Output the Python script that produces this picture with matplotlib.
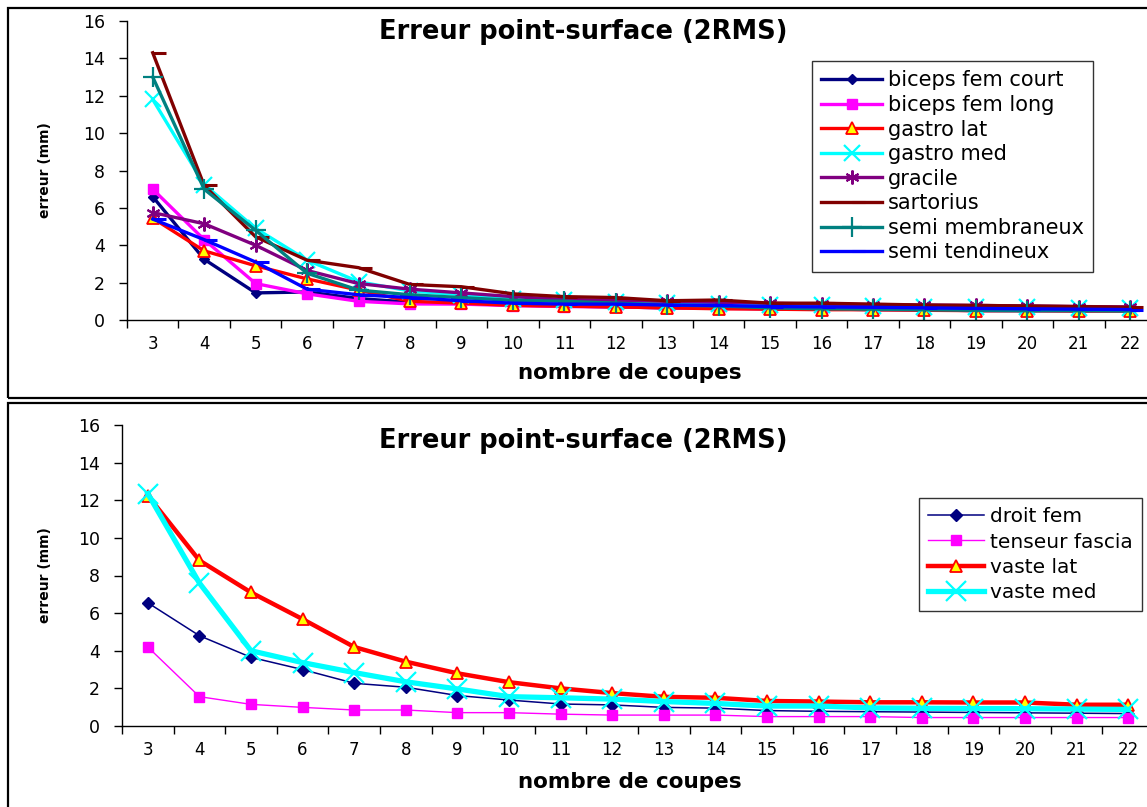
import matplotlib
matplotlib.use("Agg")
import matplotlib.pyplot as plt
from matplotlib.path import Path
from matplotlib.patches import Rectangle

plt.rcParams['font.family'] = ['DejaVu Sans']

# ---- data -------------------------------------------------------------
coupes = list(range(3, 23))
tick_labels = [str(c) for c in coupes]
y_ticks = [0, 2, 4, 6, 8, 10, 12, 14, 16]

titre = "Erreur point-surface (2RMS)"
x_titre = "nombre de coupes"
y_titre = "erreur (mm)"

# upper chart: hamstrings, gastrocnemius, gracilis, sartorius
biceps_fem_court = [6.6, 3.25, 1.45, 1.5, 1.15, 0.95, 0.9, 0.8, 0.75, 0.7,
                    0.65, 0.65, 0.6, 0.6, 0.55, 0.55, 0.5, 0.5, 0.5, 0.5]
biceps_fem_long = [7.0, 4.3, 1.95, 1.4, 1.0, 0.86, 0.85, 0.77, 0.72, 0.7,
                   0.65, 0.62, 0.6, 0.6, 0.58, 0.55, 0.55, 0.52, 0.5, 0.5]
gastro_lat = [5.45, 3.7, 2.9, 2.2, 1.6, 1.0, 0.9, 0.78, 0.74, 0.7,
              0.65, 0.6, 0.58, 0.55, 0.55, 0.52, 0.5, 0.5, 0.48, 0.48]
gastro_med = [11.8, 7.25, 4.9, 3.2, 2.05, 1.55, 1.35, 1.15, 1.05, 0.95,
              0.9, 0.85, 0.8, 0.78, 0.75, 0.72, 0.7, 0.68, 0.65, 0.62]
gracile = [5.75, 5.15, 4.0, 2.65, 1.95, 1.65, 1.45, 1.25, 1.1, 1.05,
           1.0, 0.95, 0.9, 0.85, 0.82, 0.8, 0.78, 0.75, 0.72, 0.7]
sartorius = [14.3, 7.2, 4.45, 3.2, 2.8, 1.9, 1.78, 1.4, 1.25, 1.2,
             1.03, 1.07, 0.9, 0.9, 0.85, 0.8, 0.78, 0.75, 0.72, 0.68]
semi_membraneux = [13.0, 7.0, 4.8, 2.5, 1.6, 1.35, 1.2, 1.05, 1.0, 0.9,
                   0.8, 0.75, 0.65, 0.6, 0.58, 0.55, 0.52, 0.5, 0.5, 0.48]
semi_tendineux = [5.4, 4.3, 3.1, 1.65, 1.35, 1.2, 1.03, 0.9, 0.85, 0.85,
                  0.8, 0.78, 0.72, 0.7, 0.68, 0.65, 0.62, 0.6, 0.58, 0.56]

# lower chart: quadriceps and tensor fasciae latae
droit_fem = [6.55, 4.8, 3.65, 3.0, 2.27, 2.06, 1.62, 1.38, 1.17, 1.12,
             0.99, 0.95, 0.82, 0.78, 0.76, 0.74, 0.72, 0.7, 0.68, 0.66]
tenseur_fascia = [4.2, 1.56, 1.15, 0.99, 0.85, 0.85, 0.71, 0.71, 0.63, 0.58,
                  0.58, 0.58, 0.5, 0.5, 0.5, 0.45, 0.45, 0.45, 0.45, 0.45]
vaste_lat = [12.25, 8.8, 7.1, 5.68, 4.2, 3.42, 2.8, 2.33, 2.0, 1.75,
             1.55, 1.5, 1.33, 1.3, 1.26, 1.26, 1.25, 1.25, 1.13, 1.13]
vaste_med = [12.35, 7.6, 4.0, 3.37, 2.84, 2.35, 1.97, 1.56, 1.5, 1.43,
             1.3, 1.2, 1.06, 1.06, 0.96, 0.94, 0.93, 0.92, 0.9, 0.88]

# ---- styles -----------------------------------------------------------
dash_right = Path([(0, 0), (1, 0)])   # short dash drawn to the right of the point

top_series = [
    ("biceps fem court", biceps_fem_court,
     dict(color="#000080", marker="D", ms=5.5, mfc="#000080", mec="#000080")),
    ("biceps fem long", biceps_fem_long,
     dict(color="#FF00FF", marker="s", ms=6.5, mfc="#FF00FF", mec="#FF00FF")),
    ("gastro lat", gastro_lat,
     dict(color="#FF0000", marker="^", ms=8, mfc="#FFFF00", mec="#FF0000", mew=1.3)),
    ("gastro med", gastro_med,
     dict(color="#00FFFF", marker="x", ms=12, mec="#00FFFF", mew=1.6)),
    ("gracile", gracile,
     dict(color="#800080", marker=(6, 2, 0), ms=10, mec="#800080", mew=1.5)),
    ("sartorius", sartorius,
     dict(color="#800000", marker=dash_right, ms=19, mfc="none", mec="#800000", mew=2.2)),
    ("semi membraneux", semi_membraneux,
     dict(color="#008080", marker="+", ms=14, mec="#008080", mew=1.6)),
    ("semi tendineux", semi_tendineux,
     dict(color="#0000FF", marker=dash_right, ms=19, mfc="none", mec="#0000FF", mew=2.2)),
]

bottom_series = [
    ("droit fem", droit_fem,
     dict(color="#000080", lw=1.1, marker="D", ms=6.5, mfc="#000080", mec="#000080")),
    ("tenseur fascia", tenseur_fascia,
     dict(color="#FF00FF", lw=1.0, marker="s", ms=7.5, mfc="#FF00FF", mec="#FF00FF")),
    ("vaste lat", vaste_lat,
     dict(color="#FF0000", lw=3.2, marker="^", ms=9, mfc="#FFFF00", mec="#FF0000", mew=1.3)),
    ("vaste med", vaste_med,
     dict(color="#00FFFF", lw=3.8, marker="x", ms=14, mec="#00FFFF", mew=1.6)),
]

W, H = 1147, 807
fig = plt.figure(figsize=(W / 100, H / 100), dpi=100)
fig.patch.set_facecolor("white")


def fx(px):
    return px / W


def fy(py):
    return 1 - py / H


def style_axes(ax):
    ax.set_xlim(2.5, 22.5)
    ax.set_ylim(0, 16)
    for s in ("top", "right"):
        ax.spines[s].set_visible(False)
    for s in ("left", "bottom"):
        ax.spines[s].set_linewidth(1.0)
        ax.spines[s].set_color("black")
    ax.set_yticks(y_ticks)
    ax.set_yticklabels([str(v) for v in y_ticks])
    ax.set_xticks(coupes)
    ax.set_xticklabels(tick_labels)
    ax.set_xticks([c + 0.5 for c in [2] + coupes], minor=True)
    ax.tick_params(axis="x", which="major", length=0, pad=11, labelsize=12)
    ax.tick_params(axis="x", which="minor", length=6, width=1.0, direction="out")
    ax.tick_params(axis="y", which="major", length=6, width=1.0, direction="out",
                   pad=10, labelsize=12.5)


def panel(rect_px, ax_px, series, legend_px, leg_font, handle_len, row_gap,
          title_y, xlab_y, ylab_y):
    x0, y0, x1, y1 = rect_px
    fig.patches.append(Rectangle((fx(x0), fy(y1)), fx(x1) - fx(x0), fy(y0) - fy(y1),
                                 transform=fig.transFigure, fill=False,
                                 edgecolor="black", lw=1.6, clip_on=False))
    left, top, right, bottom = ax_px
    ax = fig.add_axes([fx(left), fy(bottom), fx(right) - fx(left), fy(top) - fy(bottom)])
    ax.patch.set_alpha(0)
    style_axes(ax)
    for name, vals, st in series:
        st = dict(st)
        lw = st.pop("lw", 2.4)
        ax.plot(coupes, vals, label=name, lw=lw, clip_on=False, **st)
    leg = fig.legend(*ax.get_legend_handles_labels(), loc="upper left",
                     bbox_to_anchor=(fx(legend_px[0]), fy(legend_px[1])),
                     bbox_transform=fig.transFigure, fontsize=leg_font,
                     frameon=True, fancybox=False, shadow=False,
                     handlelength=handle_len, handletextpad=0.3,
                     labelspacing=row_gap, borderpad=0.45, borderaxespad=0)
    leg.get_frame().set_edgecolor("black")
    leg.get_frame().set_linewidth(1.0)
    fig.text(fx(583), fy(title_y), titre, ha="center", va="center",
             fontsize=18.5, fontweight="bold")
    fig.text(fx(630), fy(xlab_y), x_titre, ha="center", va="center",
             fontsize=15.5, fontweight="bold")
    fig.text(fx(45), fy(ylab_y), y_titre, ha="center", va="center",
             rotation=90, fontsize=10, fontweight="bold")
    return ax


panel((8, 8, 1160, 398), (127, 21, 1156, 320), top_series,
      (812, 61), 15, 2.9, 0.22, 32, 373, 170)
panel((8, 403, 1160, 815), (122, 425, 1154, 726), bottom_series,
      (919, 498), 14.5, 2.8, 0.32, 441, 782, 575)

fig.savefig("out.png", dpi=100, facecolor="white")
